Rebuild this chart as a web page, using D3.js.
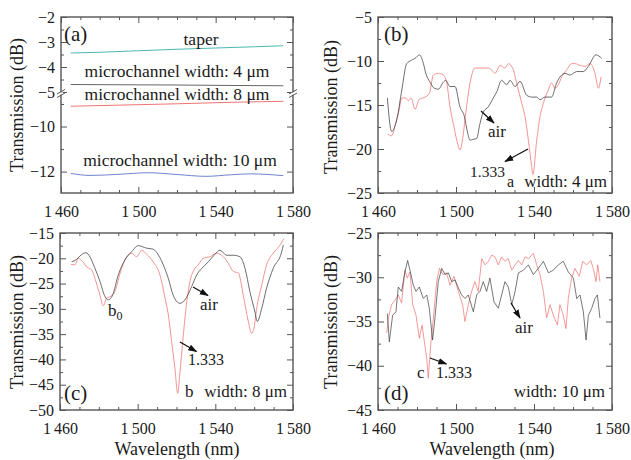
<!DOCTYPE html>
<html><head><meta charset="utf-8">
<script src="https://cdn.jsdelivr.net/npm/d3@7"></script>
<style>
body{margin:0;background:#fff}
svg{display:block}
</style>
</head><body>
<svg id="chart" width="631" height="460"></svg>
<script>
// ---------------- DATA ----------------
const wavelengthTicks = [1460, 1500, 1540, 1580];
const wavelengthMinor = [1470, 1480, 1490, 1510, 1520, 1530, 1550, 1560, 1570];

// panel (a): broken y-axis
const aUpperTicks = [-5, -4, -3, -2];
const aLowerTicks = [-12, -10];
const aTaper = [[1465,-3.44],[1480,-3.41],[1500,-3.35],[1520,-3.29],[1540,-3.24],[1560,-3.19],[1575,-3.15]];
const a4um = [[1465,-4.70],[1490,-4.71],[1520,-4.72],[1550,-4.74],[1575,-4.75]];
const a8um = [[1465,-9.10],[1490,-9.05],[1520,-8.99],[1550,-8.92],[1575,-8.88]];
const a10um = [[1465,-12.08],[1475,-12.17],[1490,-12.12],[1505,-12.05],[1520,-12.13],[1535,-12.21],[1548,-12.14],[1558,-12.10],[1575,-12.18]];

// panel (b): width 4 um
const bTicks = [-25, -20, -15, -10, -5];
const bAir = [[1464.8,-14.2],[1467,-18.0],[1469.6,-16.7],[1472.2,-13.3],[1474.7,-10.3],[1477.3,-9.9],[1479,-9.7],[1481.2,-9.3],[1483.3,-10.3],[1484.5,-11.4],[1486.7,-12.4],[1488.9,-13.1],[1491,-13.2],[1493.5,-12.4],[1494.7,-12.2],[1496.9,-12.9],[1499.5,-12.9],[1502,-15.2],[1504.3,-16.3],[1506,-18.2],[1507.2,-19.0],[1508.9,-18.9],[1510.6,-18.8],[1512.3,-17.1],[1514,-15.8],[1516.6,-15.2],[1519.1,-14.2],[1520.9,-13.5],[1523.4,-12.2],[1526,-12.7],[1527.7,-12.2],[1530.3,-12.9],[1532.8,-12.3],[1536.3,-13.9],[1538.8,-14.1],[1541.4,-14.1],[1543.1,-14.4],[1545.6,-14.1],[1549,-14.1],[1551.6,-12.5],[1555.9,-11.4],[1558.5,-11.6],[1561.9,-11.2],[1565.3,-11.2],[1567.9,-10.6],[1571.8,-9.3],[1574.7,-9.7]];
const bWater = [[1465,-18.3],[1467,-18.5],[1469,-17.1],[1470.8,-15.6],[1472.2,-14.2],[1474.2,-14.2],[1475.6,-14.5],[1477,-14.2],[1479,-15.5],[1481,-14.4],[1484.1,-14.1],[1486.3,-13.7],[1488.4,-11.6],[1491,-11.4],[1493.5,-11.6],[1495.2,-12.4],[1496.9,-15.2],[1498.6,-17.1],[1500.4,-19.0],[1502.1,-20.1],[1503.3,-19.0],[1505,-15.9],[1507.2,-12.5],[1509.7,-10.8],[1513.2,-10.8],[1516.6,-10.8],[1519.1,-11.2],[1520,-11.4],[1522.6,-10.5],[1525.1,-10.8],[1526.8,-10.3],[1529.4,-11.0],[1531.1,-12.5],[1533.7,-14.8],[1535.4,-16.3],[1537.1,-19.0],[1538.8,-22.0],[1539.4,-22.9],[1541.4,-19.0],[1543.1,-16.3],[1544.8,-14.8],[1547.3,-13.3],[1549,-12.5],[1550.8,-13.1],[1552.5,-12.7],[1554.2,-11.8],[1556.8,-11.0],[1559.4,-10.3],[1561,-10.3],[1563.6,-10.5],[1566.2,-10.6],[1568.7,-10.3],[1571.3,-11.4],[1573,-13.1],[1574.4,-11.8]];

// panel (c): width 8 um
const cTicks = [-50, -45, -40, -35, -30, -25, -20, -15];
const cAir = [[1466,-20.7],[1468.6,-20.2],[1471,-19.3],[1473.4,-18.9],[1475.4,-19.7],[1477.7,-21.7],[1480.6,-24.6],[1483.2,-27.6],[1484.9,-28.2],[1487.1,-27.3],[1490,-23.3],[1493.5,-20.3],[1496.9,-18.7],[1500.3,-17.5],[1504.6,-18.0],[1508,-18.2],[1510.6,-19.3],[1513.2,-21.3],[1515.8,-24.0],[1518.3,-27.3],[1521.8,-28.9],[1524.4,-28.2],[1527.8,-25.6],[1530.4,-23.3],[1533,-22.0],[1536.4,-20.7],[1539.8,-19.2],[1542.4,-18.4],[1545.8,-19.4],[1549.2,-19.4],[1552.7,-19.7],[1555.3,-22.0],[1557.8,-26.6],[1560.4,-30.6],[1561.6,-32.5],[1563.9,-29.9],[1566.4,-25.9],[1569.8,-22.0],[1574.2,-18.7],[1575,-17.4]];
const cWater = [[1465.7,-21.2],[1467.7,-21.3],[1469.4,-20.0],[1471.7,-20.7],[1474,-21.8],[1476.3,-22.3],[1478.5,-24.6],[1480.6,-27.3],[1482.3,-29.4],[1484,-27.9],[1485.7,-27.6],[1488.3,-26.6],[1490.9,-23.0],[1494.3,-19.7],[1496.9,-19.0],[1499.5,-19.7],[1502.1,-18.4],[1504.6,-19.2],[1508,-20.7],[1511.5,-23.3],[1514.1,-27.9],[1515.8,-31.2],[1517.5,-36.5],[1519.2,-41.8],[1520.6,-46.7],[1521.8,-42.4],[1523.2,-36.5],[1524.9,-29.9],[1526.9,-24.6],[1529,-22.3],[1531.2,-21.3],[1533.8,-20.0],[1537.2,-19.7],[1540.7,-19.0],[1544.1,-19.7],[1546.7,-21.0],[1549.2,-22.6],[1551.8,-22.9],[1554.4,-27.3],[1557,-32.5],[1558.7,-34.8],[1559.9,-33.8],[1561.3,-29.9],[1563.9,-25.3],[1566.4,-21.3],[1569.8,-19.0],[1573.3,-17.4],[1575.3,-16.1]];

// panel (d): width 10 um
const dTicks = [-45, -40, -35, -30, -25];
const dAir = [[1464.8,-34.1],[1465.8,-37.3],[1467.5,-34.3],[1469.2,-33.9],[1470.4,-31.1],[1472.1,-31.6],[1473.8,-29.4],[1475.2,-28.1],[1476.4,-29.2],[1478.1,-30.9],[1479.5,-31.6],[1481.2,-31.1],[1483.2,-32.4],[1485,-32.0],[1486.3,-33.5],[1488,-37.1],[1489.2,-34.6],[1490.9,-30.5],[1492.7,-29.0],[1494.4,-29.7],[1496.1,-29.5],[1497.8,-30.5],[1499.5,-30.3],[1501.2,-31.2],[1502.9,-32.0],[1504.6,-32.4],[1506.3,-32.0],[1508.9,-33.9],[1510.6,-32.0],[1512.3,-31.6],[1514,-30.5],[1515.7,-31.6],[1517.4,-30.1],[1519.5,-32.8],[1521.7,-33.5],[1523.4,-32.0],[1525.1,-30.5],[1526.8,-31.1],[1528.6,-33.1],[1530.3,-31.6],[1532,-29.5],[1534.6,-29.2],[1537.1,-28.6],[1539.7,-29.7],[1542.2,-29.0],[1544.8,-28.2],[1547.4,-29.5],[1549.9,-29.2],[1552.5,-28.6],[1555,-28.2],[1557.6,-29.4],[1560.2,-30.1],[1561.9,-32.4],[1563.6,-32.0],[1565.3,-33.9],[1566.7,-37.1],[1567.9,-34.3],[1569.6,-33.5],[1571.3,-32.4],[1572.5,-32.0],[1573.8,-34.6]];
const dWater = [[1464.5,-36.3],[1465.3,-34.6],[1467,-33.1],[1468.7,-32.6],[1470.4,-32.0],[1472.1,-32.9],[1473.8,-29.2],[1475,-30.1],[1476.4,-29.4],[1477.8,-33.1],[1479.5,-34.3],[1481.2,-36.9],[1482.6,-35.4],[1483.8,-37.3],[1485,-39.2],[1485.8,-41.4],[1487,-37.7],[1488.4,-34.6],[1490.1,-30.5],[1491.5,-29.0],[1493.2,-29.7],[1495.2,-29.5],[1496.9,-30.9],[1499,-29.9],[1501.2,-31.6],[1503.4,-33.1],[1504.6,-35.0],[1506.3,-33.1],[1508,-31.6],[1509.7,-30.5],[1511.4,-31.6],[1513.2,-27.9],[1514.9,-28.6],[1516.6,-28.2],[1518.3,-27.5],[1520,-27.7],[1521.7,-28.6],[1523.4,-27.7],[1525.1,-28.2],[1526.8,-27.9],[1528.6,-29.2],[1530.3,-28.6],[1532,-28.1],[1533.7,-28.6],[1535.4,-27.7],[1537.1,-27.9],[1539.7,-27.3],[1541.4,-28.6],[1543.1,-29.7],[1544.8,-31.6],[1546.5,-34.6],[1548.2,-33.1],[1549.9,-34.3],[1552,-35.4],[1553.3,-33.1],[1555,-34.3],[1556.4,-35.8],[1557.6,-32.4],[1559.3,-30.1],[1561,-29.0],[1563.2,-29.9],[1565,-28.2],[1567,-28.6],[1569.1,-28.1],[1570.4,-29.0],[1571.8,-30.5],[1572.7,-28.6],[1573.8,-30.5]];

// ---------------- DRAWING ----------------
const FONT = "'Liberation Serif', 'DejaVu Serif', 'Noto Serif', serif";
const svg = d3.select("#chart");
const AX = "#555", BLACK = "#3c3c3c", RED = "#f07878";
svg.append("defs").append("marker")
  .attr("id","arr").attr("viewBox","0 0 10 10").attr("refX",9).attr("refY",5)
  .attr("markerWidth",7).attr("markerHeight",7).attr("orient","auto")
  .append("path").attr("d","M0,1.5 L10,5 L0,8.5 Z").attr("fill","#111");

const fmtWl = d => { const s = String(d); return s.slice(0,1) + "\u2009" + s.slice(1); };
const fmtY = d => d < 0 ? "\u2212" + Math.abs(d) : String(d);

function styleAxis(sel, labelSize) {
  sel.attr("font-family", null);
  sel.select(".domain").remove();
  sel.selectAll(".tick line").attr("stroke", AX).attr("stroke-width", 1);
  sel.selectAll(".tick text").style("font-family", FONT)
    .style("font-size", labelSize + "px").attr("fill","#1a1a1a");
}

function xAxes(box, x, labels) {
  const gb = svg.append("g").attr("transform",`translate(0,${box.y1})`)
    .call(d3.axisBottom(x).tickValues(wavelengthTicks).tickSize(-6).tickPadding(13).tickFormat(labels ? fmtWl : ""));
  styleAxis(gb, 16);
  styleAxis(svg.append("g").attr("transform",`translate(0,${box.y1})`)
    .call(d3.axisBottom(x).tickValues(wavelengthMinor).tickSize(-3).tickFormat("")), 16);
  styleAxis(svg.append("g").attr("transform",`translate(0,${box.y0})`)
    .call(d3.axisTop(x).tickValues(wavelengthTicks).tickSize(-6).tickFormat("")), 16);
  styleAxis(svg.append("g").attr("transform",`translate(0,${box.y0})`)
    .call(d3.axisTop(x).tickValues(wavelengthMinor).tickSize(-3).tickFormat("")), 16);
}

function yAxes(box, y, major, minor) {
  styleAxis(svg.append("g").attr("transform",`translate(${box.x0},0)`)
    .call(d3.axisLeft(y).tickValues(major).tickSize(-6).tickPadding(6).tickFormat(fmtY)), 16);
  styleAxis(svg.append("g").attr("transform",`translate(${box.x0},0)`)
    .call(d3.axisLeft(y).tickValues(minor).tickSize(-3).tickFormat("")), 16);
  styleAxis(svg.append("g").attr("transform",`translate(${box.x1},0)`)
    .call(d3.axisRight(y).tickValues(major).tickSize(-6).tickFormat("")), 16);
  styleAxis(svg.append("g").attr("transform",`translate(${box.x1},0)`)
    .call(d3.axisRight(y).tickValues(minor).tickSize(-3).tickFormat("")), 16);
}

function frame(box) {
  svg.append("rect").attr("x",box.x0).attr("y",box.y0)
    .attr("width",box.x1-box.x0).attr("height",box.y1-box.y0)
    .attr("fill","none").attr("stroke",AX).attr("stroke-width",1.4);
}

function txt(sel) { return sel.style("font-family", FONT).attr("fill", "#1a1a1a"); }
function yTitle(x, y) {
  txt(svg.append("text")).attr("transform",`translate(${x},${y}) rotate(-90)`)
    .attr("text-anchor","middle").style("font-size","18px").text("Transmission (dB)");
}
function xTitle(x, y) {
  txt(svg.append("text")).attr("x",x).attr("y",y).attr("text-anchor","middle")
    .style("font-size","18px").text("Wavelength (nm)");
}
function label(x, y, t, size, anchor) {
  return txt(svg.append("text")).attr("x",x).attr("y",y).attr("text-anchor",anchor||"start")
    .style("font-size",(size||17)+"px").text(t);
}
function arrow(x1,y1,x2,y2) {
  svg.append("line").attr("x1",x1).attr("y1",y1).attr("x2",x2).attr("y2",y2)
    .attr("stroke","#111").attr("stroke-width",1.3).attr("marker-end","url(#arr)");
}
function curve(data, x, y, color, width, smooth) {
  const line = d3.line().x(d => x(d[0])).y(d => y(d[1]))
    .curve(smooth ? d3.curveMonotoneX : d3.curveLinear);
  svg.append("path").datum(data).attr("d", line).attr("fill","none")
    .attr("stroke", color).attr("stroke-width", width).attr("stroke-linejoin","round");
}
function minorsOf(major) {
  const out = [];
  for (let i = 0; i < major.length - 1; i++) out.push((major[i] + major[i+1]) / 2);
  return out;
}

// ---- Panel (a) ----
{
  const box = {x0:61, x1:293, y0:17, y1:193};
  const x = d3.scaleLinear().domain([1460,1580]).range([box.x0, box.x1]);
  const yUp = d3.scaleLinear().domain([-5,-2]).range([92, box.y0]);
  const yLo = d3.scaleLinear().domain([-12.95,-8.6]).range([box.y1, 95]);
  curve(aTaper, x, yUp, "#4ab8b4", 1, true);
  curve(a4um, x, yUp, "#555", 0.9, true);
  curve(a8um, x, yLo, "#ef7474", 1, true);
  curve(a10um, x, yLo, "#6f84cf", 1, true);
  frame(box);
  xAxes(box, x, true);
  yAxes(box, yUp, aUpperTicks, minorsOf(aUpperTicks));
  yAxes(box, yLo, aLowerTicks, [-11, -9]);
  // axis break marks
  [box.x0, box.x1].forEach(px => {
    svg.append("rect").attr("x",px-2).attr("y",92.3).attr("width",4).attr("height",2.4).attr("fill","#fff");
    svg.append("line").attr("x1",px-4).attr("y1",94).attr("x2",px+4).attr("y2",89.5).attr("stroke",AX).attr("stroke-width",1);
    svg.append("line").attr("x1",px-4).attr("y1",97.5).attr("x2",px+4).attr("y2",93).attr("stroke",AX).attr("stroke-width",1);
  });
  yTitle(23, 105);
  label(64, 41, "(a)", 21);
  label(201, 45, "taper", 17.5, "middle");
  label(177, 77, "microchannel width: 4 \u03bcm", 17.5, "middle");
  label(177, 100, "microchannel width: 8 \u03bcm", 17.5, "middle");
  label(180, 166, "microchannel width: 10 \u03bcm", 17.5, "middle");
}

// ---- Panel (b) ----
{
  const box = {x0:378, x1:612, y0:17, y1:193};
  const x = d3.scaleLinear().domain([1460,1580]).range([box.x0, box.x1]);
  const y = d3.scaleLinear().domain([-25,-5]).range([box.y1, box.y0]);
  curve(bWater, x, y, RED, 0.8, true);
  curve(bAir, x, y, BLACK, 0.75, true);
  frame(box);
  xAxes(box, x, true);
  yAxes(box, y, bTicks, minorsOf(bTicks));
  yTitle(337, 107);
  label(384, 41, "(b)", 21);
  label(488, 137, "air", 17);
  arrow(481, 111, 494, 123);
  label(470, 177, "1.333", 15.5);
  arrow(528, 149, 505, 161.5);
  label(507, 187, "a", 16);
  label(607, 187, "width: 4 \u03bcm", 17, "end");
}

// ---- Panel (c) ----
{
  const box = {x0:60, x1:293, y0:233, y1:410};
  const x = d3.scaleLinear().domain([1460,1580]).range([box.x0, box.x1]);
  const y = d3.scaleLinear().domain([-50,-15]).range([box.y1, box.y0]);
  curve(cWater, x, y, RED, 0.8, true);
  curve(cAir, x, y, BLACK, 0.75, true);
  frame(box);
  xAxes(box, x, true);
  yAxes(box, y, cTicks, minorsOf(cTicks));
  yTitle(23, 322);
  xTitle(177, 455);
  label(64, 400, "(c)", 21);
  const b0 = label(108, 316, "b", 17);
  b0.append("tspan").attr("dy", 4).style("font-size","12px").text("0");
  label(200, 310, "air", 17);
  arrow(193, 287, 208, 295.5);
  label(188, 365, "1.333", 16);
  arrow(180, 342, 196.5, 351.5);
  label(185, 397, "b", 17);
  label(287, 397, "width: 8 \u03bcm", 17, "end");
}

// ---- Panel (d) ----
{
  const box = {x0:378, x1:612, y0:233, y1:410};
  const x = d3.scaleLinear().domain([1460,1580]).range([box.x0, box.x1]);
  const y = d3.scaleLinear().domain([-45,-25]).range([box.y1, box.y0]);
  curve(dWater, x, y, RED, 0.75, false);
  curve(dAir, x, y, BLACK, 0.7, false);
  frame(box);
  xAxes(box, x, true);
  yAxes(box, y, dTicks, minorsOf(dTicks));
  yTitle(337, 322);
  xTitle(492, 455);
  label(384, 400, "(d)", 21);
  label(515, 333, "air", 17);
  arrow(511, 303, 520, 318);
  label(417, 378, "c", 17);
  label(436, 378, "1.333", 16);
  arrow(430, 358, 446.5, 364);
  label(605, 397, "width: 10 \u03bcm", 17, "end");
}
</script>
</body></html>
